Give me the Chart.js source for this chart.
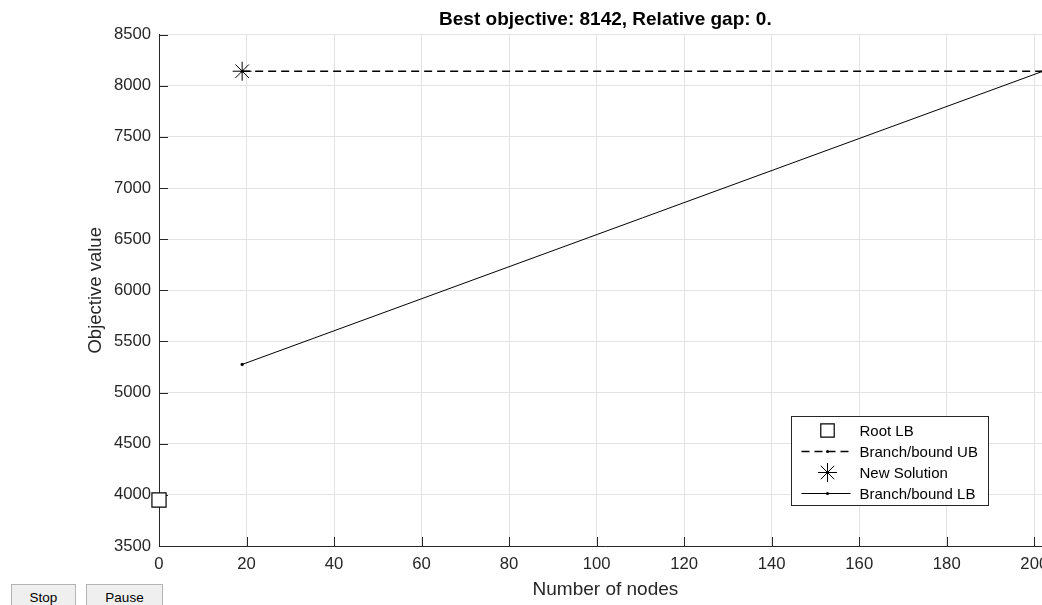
<!DOCTYPE html>
<html>
<head>
<meta charset="utf-8">
<script src="https://cdn.jsdelivr.net/npm/chart.js@4.4.1/dist/chart.umd.min.js"></script>
<style>
html,body{margin:0;padding:0;background:#fff;overflow:hidden;width:1042px;height:605px}
#wrap{position:absolute;left:0;top:0;width:1042px;height:605px;overflow:hidden}
#c{position:absolute;left:0;top:0;width:1063px;height:605px}
.btn{position:absolute;top:584px;height:26px;box-sizing:border-box;background:#efefef;border:1px solid #b4b4b4;font:13.5px Arial,'Liberation Sans',sans-serif;color:#000;text-align:center;line-height:25px}
</style>
</head>
<body>
<div id="wrap">
<canvas id="c" width="1063" height="605"></canvas>
<div class="btn" style="left:11px;width:65px">Stop</div>
<div class="btn" style="left:86px;width:77px">Pause</div>
</div>
<script>
// ── data ──
var rootNode=[0],      rootLB=[3950];
var ubNodes=[19,202],  ubVals=[8142,8142];
var solNodes=[19],     solVals=[8142];
var lbNodes=[19,202],  lbVals=[5275,8142];
var xTicks=[0,20,40,60,80,100,120,140,160,180,200];
var yTicks=[3500,4000,4500,5000,5500,6000,6500,7000,7500,8000,8500];
var X_MAX=204;

var F="Arial,'Liberation Sans',sans-serif";
function pts(xs,ys){return xs.map(function(x,i){return{x:x,y:ys[i]};});}
function fixTicks(arr){return function(s){s.ticks=arr.map(function(v){return{value:v};});};}
function plain(v){return String(v);}

/* ── matlab style inward ticks ── */
var tickIn={id:'tickIn',beforeDatasetsDraw:function(ch){
  var c=ch.ctx,a=ch.chartArea,xs=ch.scales.x,ys=ch.scales.y;
  c.save();c.strokeStyle='#262626';c.lineWidth=1;c.beginPath();
  xs.ticks.forEach(function(t){var p=Math.round(xs.getPixelForValue(t.value))+.5;c.moveTo(p,a.bottom);c.lineTo(p,a.bottom-9);});
  ys.ticks.forEach(function(t){var p=Math.round(ys.getPixelForValue(t.value))+.5;c.moveTo(a.left,p);c.lineTo(a.left+9,p);});
  c.stroke();c.restore();
}};

/* ── legend box inside axes ── */
var legendBox={id:'legendBox',afterDraw:function(ch){
  var c=ch.ctx,a=ch.chartArea,w=197,h=89;
  var x0=Math.round(a.right-64-w)+.5,y0=Math.round(a.bottom-41-h)+.5;
  c.save();
  c.fillStyle='#fff';c.fillRect(x0,y0,w,h);
  c.strokeStyle='#262626';c.lineWidth=1;c.strokeRect(x0,y0,w,h);
  c.font='15px '+F;c.textBaseline='middle';
  ch.data.datasets.forEach(function(ds,i){
    var y=y0+14+i*21,mx=x0+36;
    c.strokeStyle='#000';c.fillStyle='#000';
    if(ds.showLine){
      c.save();c.lineWidth=ds.borderWidth;c.setLineDash(ds.borderDash||[]);
      c.beginPath();c.moveTo(x0+10,y);c.lineTo(x0+59,y);c.stroke();c.restore();
    }
    c.save();
    c.fillStyle=ds.pointBackgroundColor||'#000';c.strokeStyle=ds.pointBorderColor||'#000';c.lineWidth=ds.pointBorderWidth||0;
    Chart.helpers.drawPoint(c,{pointStyle:ds.pointStyle||'circle',radius:ds.legendRadius||ds.pointRadius,rotation:0,borderWidth:ds.pointBorderWidth||0},mx,y);
    c.restore();
    c.fillStyle='#000';c.fillText(ds.label,x0+68,y+1);
  });
  c.restore();
}};

new Chart(document.getElementById('c'),{
  type:'scatter',
  data:{datasets:[
    {label:'Root LB',data:pts(rootNode,rootLB),pointStyle:'rect',pointRadius:10,legendRadius:9.5,pointBackgroundColor:'#fff',pointBorderColor:'#000',pointBorderWidth:1.2,showLine:false,clip:false},
    {label:'Branch/bound UB',data:pts(ubNodes,ubVals),showLine:true,borderColor:'#000',borderWidth:1.6,borderDash:[8,5],pointRadius:1.5,pointBackgroundColor:'#000',pointBorderColor:'#000',pointBorderWidth:0},
    {label:'New Solution',data:pts(solNodes,solVals),pointStyle:'star',pointRadius:9.5,pointBorderColor:'#000',pointBorderWidth:1,showLine:false,clip:false},
    {label:'Branch/bound LB',data:pts(lbNodes,lbVals),showLine:true,borderColor:'#000',borderWidth:1,pointRadius:1.6,pointBackgroundColor:'#000',pointBorderColor:'#000',pointBorderWidth:0}
  ]},
  options:{
    responsive:false,animation:false,devicePixelRatio:1,
    layout:{padding:0},
    plugins:{
      legend:{display:false},tooltip:{enabled:false},
      title:{display:true,fullSize:false,text:'Best objective: 8142, Relative gap: 0.',color:'#000',font:{family:F,size:19,weight:'bold'},padding:{top:8.5,bottom:3.3}}
    },
    scales:{
      x:{type:'linear',min:0,max:X_MAX,afterBuildTicks:fixTicks(xTicks),
        afterFit:function(s){s.height=59;s.paddingLeft=0;s.paddingRight=0;},
        grid:{color:'#e3e3e3',drawTicks:false},border:{color:'#262626',width:1},
        ticks:{color:'#262626',font:{family:F,size:16.7},padding:8,maxRotation:0,autoSkip:false,callback:plain},
        title:{display:true,text:'Number of nodes',color:'#262626',font:{family:F,size:19},padding:{top:0,bottom:3.5}}},
      y:{type:'linear',min:3500,max:8500,afterBuildTicks:fixTicks(yTicks),
        afterFit:function(s){s.width=159;s.paddingTop=0;s.paddingBottom=0;},
        grid:{color:'#e3e3e3',drawTicks:false},border:{color:'#262626',width:1},
        ticks:{color:'#262626',font:{family:F,size:16.7},padding:8,autoSkip:false,callback:plain},
        title:{display:true,text:'Objective value',color:'#262626',font:{family:F,size:18.5},padding:{top:85,bottom:0}}}
    }
  },
  plugins:[tickIn,legendBox]
});
</script>
</body>
</html>
